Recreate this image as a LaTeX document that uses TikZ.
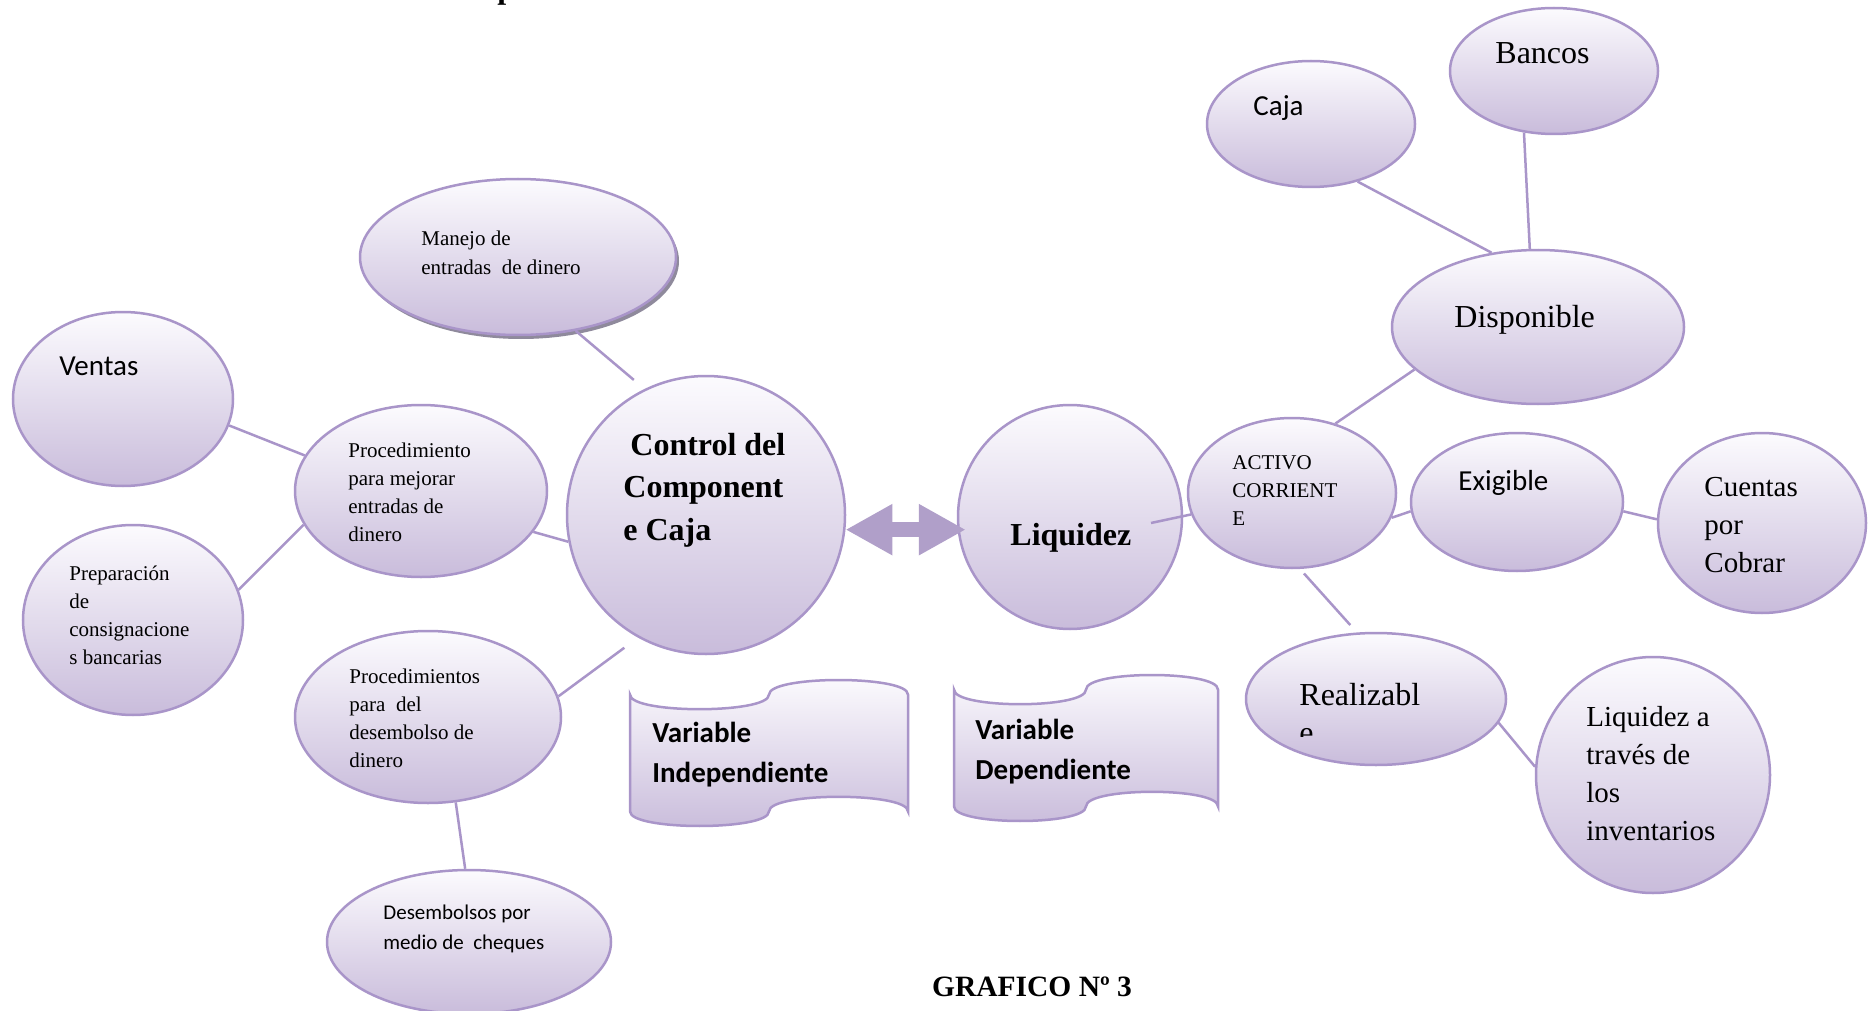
\documentclass[tikz,border=0pt]{standalone}
\usepackage{fontspec}
\setmainfont{Liberation Serif}
\newfontfamily\calib{Carlito}
\usetikzlibrary{shapes.geometric,arrows.meta,calc}

\definecolor{edge}{HTML}{A995C9}
\definecolor{shadetop}{HTML}{FCFBFE}
\definecolor{shadebot}{HTML}{C9BCDB}
\definecolor{arrowfill}{HTML}{B09FC9}
\definecolor{shadowgray}{HTML}{8F8A9C}

% multi-line label whose baseline is the first line
\newcommand{\ml}[1]{\begin{tabular}[t]{@{}l@{}}#1\end{tabular}}

% punched-tape banner: left x, top y, right x, bottom y
\newcommand{\tapeshape}[4]{%
  \pgfmathsetmacro{\tpA}{#2+0.1*(#4-#2)}%
  \pgfmathsetmacro{\tpB}{#4-0.1*(#4-#2)}%
  \pgfmathsetmacro{\tpQ}{0.1333*(#4-#2)}%
  \pgfmathsetmacro{\tpM}{(#1+#3)/2}%
  \path[tapestyle] (#1,\tpA) .. controls (#1,\tpA+\tpQ) and (\tpM,\tpA+\tpQ) .. (\tpM,\tpA)
     .. controls (\tpM,\tpA-\tpQ) and (#3,\tpA-\tpQ) .. (#3,\tpA)
     -- (#3,\tpB) .. controls (#3,\tpB-\tpQ) and (\tpM,\tpB-\tpQ) .. (\tpM,\tpB)
     .. controls (\tpM,\tpB+\tpQ) and (#1,\tpB+\tpQ) .. (#1,\tpB) -- cycle;}

\tikzset{
  bubble/.style={ellipse, draw=edge, line width=1.25pt, top color=shadetop,
    bottom color=shadebot, inner sep=0pt},
  tapestyle/.style={draw=edge, line width=1.25pt, top color=shadetop, bottom color=shadebot},
  link/.style={draw=edge, line width=1.25pt},
  txt/.style={anchor=base west, inner sep=0pt, text=black},
  small/.style={font=\fontsize{10.5}{14}\selectfont},
  mid/.style={font=\fontsize{14.5}{19}\selectfont},
  big/.style={font=\fontsize{16}{19}\selectfont},
  sansmid/.style={font=\calib\fontsize{14.5}{19}\selectfont},
}

\begin{document}
\begin{tikzpicture}[x=0.5pt,y=-0.5pt]
\useasboundingbox (0,0) rectangle (1876,1011);
\fill[white] (0,0) rectangle (1876,1011);

% fragment of the title line above the picture
\node[txt, font=\bfseries\fontsize{16}{19}\selectfont] (headfrag) at (497,-1) {p};

% bubbles
\node[ellipse, fill=shadowgray, minimum width=158pt, minimum height=78pt, inner sep=0pt] (manejoshadow) at (521,261) {};
\node[bubble, minimum width=158pt, minimum height=78pt] (manejo) at (518,257) {};
\node[bubble, minimum width=104pt, minimum height=63pt] (bancos) at (1554,71) {};
\node[bubble, minimum width=104pt, minimum height=63pt] (caja) at (1311,124) {};
\node[bubble, minimum width=146pt, minimum height=77pt] (disp) at (1538,327) {};
\node[bubble, minimum width=110pt, minimum height=87pt] (ventas) at (123,399) {};
\node[bubble, minimum width=126pt, minimum height=86pt] (mejorar) at (421,491) {};
\node[bubble, minimum width=110pt, minimum height=95pt] (prep) at (133,620) {};
\node[bubble, minimum width=139pt, minimum height=139pt] (ctrl) at (706,515) {};
\node[bubble, minimum width=112pt, minimum height=112pt] (liq) at (1070,517) {};
\node[bubble, minimum width=104pt, minimum height=75pt] (activo) at (1292,493) {};
\node[bubble, minimum width=106pt, minimum height=69pt] (exig) at (1517,502) {};
\node[bubble, minimum width=104pt, minimum height=90pt] (cuentas) at (1762,523) {};
\node[bubble, minimum width=130pt, minimum height=66pt] (realiz) at (1376,699) {};
\node[bubble, minimum width=117pt, minimum height=118pt] (invent) at (1653,775) {};
\node[bubble, minimum width=133pt, minimum height=86pt] (desemb) at (428,717) {};
\node[bubble, minimum width=142pt, minimum height=72pt] (cheques) at (469,942) {};

% banners
\tapeshape{630}{680}{908}{826}
\tapeshape{954}{675}{1218}{821}

% end of the Liquidez link, lying inside its circle
\coordinate (liqin) at ($(liq.center)+(81,6)$);

% connectors
\draw[link] (caja.-51) -- (disp.122);
\draw[link] (bancos.-116) -- (disp.96);
\draw[link] (disp.-161) -- (activo.58);
\draw[link] (activo.-168) -- (liqin);
\draw[link] (activo.-14) -- (exig.-175);
\draw[link] (exig.-5) -- (cuentas.178);
\draw[link, shorten <=3pt, shorten >=5pt] (activo.-84) -- (realiz.106);
\draw[link] (realiz.-11) -- (invent.176);
\draw[link, shorten >=7pt] (manejo.-52) -- (ctrl.116);
\draw[link] (ventas.-14) -- (mejorar.163);
\draw[link] (prep.16) -- (mejorar.-164);
\draw[link] (mejorar.-20) -- (ctrl.-169);
\draw[link, shorten >=8.5pt] (desemb.9) -- (ctrl.-119.5);
\draw[link] (desemb.-72) -- (cheques.93);

% two-way arrow between the variables
\draw[arrowfill, line width=7.5pt,
  {Triangle[length=23.5pt,width=24pt]}-{Triangle[length=23.5pt,width=24pt]},
  shorten >=-4.5pt] (ctrl.-6.6) -- (ctrl.-6.6 -| liq.west);

% labels
\node[txt, small] (t-manejo) at (421,246) {\ml{Manejo de\\entradas\ \ de dinero}};
\node[txt, sansmid] (t-ventas) at (59,375) {Ventas};
\node[txt, small] (t-mejorar) at (348,457) {\ml{Procedimiento\\para mejorar\\entradas de\\dinero}};
\node[txt, small] (t-prep) at (69,580) {\ml{Preparación\\de\\consignacione\\s bancarias}};
\node[txt, small] (t-desemb) at (349,683) {\ml{Procedimientos\\para\ \ del\\desembolso de\\dinero}};
\node[txt, font=\calib\fontsize{10.5}{15}\selectfont] (t-cheques) at (383,919) {\ml{Desembolsos por\\medio de\ \ cheques}};
\node[txt, font=\bfseries\fontsize{16}{21.25}\selectfont] (t-ctrl) at (623,455)
  {\ml{\hspace*{3.5pt}Control del\\Component\\e Caja}};
\node[txt, font=\bfseries\fontsize{16}{19}\selectfont] (t-liq) at (1010,545) {Liquidez};
\node[txt, sansmid] (t-caja) at (1253,116) {Caja};
\node[txt, big] (t-bancos) at (1495,64) {Bancos};
\node[txt, big] (t-disp) at (1454,327) {Disponible};
\node[txt, small] (t-activo) at (1232,469) {\ml{ACTIVO\\CORRIENT\\E}};
\node[txt, sansmid] (t-exig) at (1458,490) {Exigible};
\node[txt, mid] (t-cuentas) at (1704,496) {\ml{Cuentas\\por\\Cobrar}};
\begin{scope}
  \clip (1280,640) rectangle (1500,736);
  \node[txt, big] (t-realiz) at (1299,705) {\ml{Realizabl\\e}};
\end{scope}
\node[txt, mid] (t-invent) at (1586,726) {\ml{Liquidez a\\través de\\los\\inventarios}};
\node[txt, font=\calib\bfseries\fontsize{14.5}{20.25}\selectfont] (t-vind) at (652,742)
  {\ml{Variable\\Independiente}};
\node[txt, font=\calib\bfseries\fontsize{14.5}{20.25}\selectfont] (t-vdep) at (975,739)
  {\ml{Variable\\Dependiente}};
\node[anchor=base, inner sep=0pt, font=\bfseries\fontsize{14.75}{18}\selectfont] (caption) at (1032,996) {GRAFICO Nº 3};
\end{tikzpicture}
\end{document}
